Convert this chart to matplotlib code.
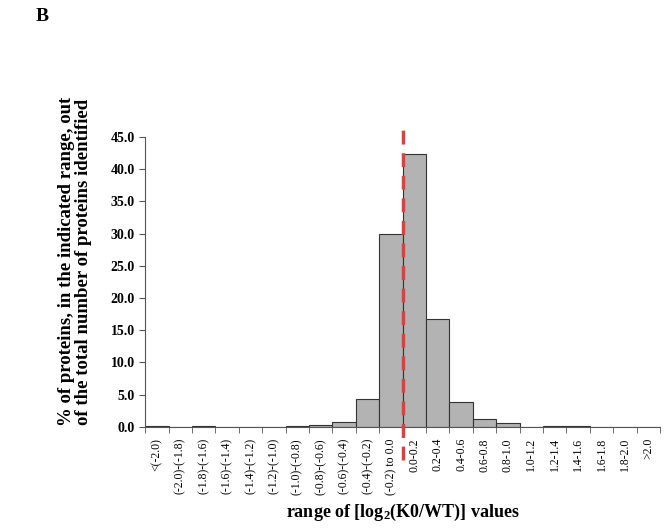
import matplotlib
matplotlib.use("Agg")
import matplotlib.pyplot as plt
import numpy as np

plt.rcParams['font.family'] = ['Liberation Serif', 'DejaVu Serif']
plt.rcParams['mathtext.fontset'] = 'custom'
plt.rcParams['mathtext.rm'] = 'Liberation Serif:bold'
plt.rcParams['mathtext.bf'] = 'Liberation Serif:bold'
plt.rcParams['mathtext.default'] = 'rm'

categories = ['<(-2.0)', '(-2.0)-(-1.8)', '(-1.8)-(-1.6)', '(-1.6)-(-1.4)', '(-1.4)-(-1.2)',
              '(-1.2)-(-1.0)', '(-1.0)-(-0.8)', '(-0.8)-(-0.6)', '(-0.6)-(-0.4)', '(-0.4)-(-0.2)',
              '(-0.2) to 0.0', '0.0-0.2', '0.2-0.4', '0.4-0.6', '0.6-0.8', '0.8-1.0',
              '1.0-1.2', '1.2-1.4', '1.4-1.6', '1.6-1.8', '1.8-2.0', '>2.0']
percent = [0.2, 0.0, 0.2, 0.0, 0.0, 0.0, 0.2, 0.35, 0.8, 4.4,
           29.9, 42.3, 16.8, 3.8, 1.3, 0.6, 0.0, 0.2, 0.2, 0.0, 0.0, 0.0]

fig = plt.figure(figsize=(6.66, 5.29), dpi=100)
ax = fig.add_axes([0.218, 0.193, 0.773, 0.548])

x = np.arange(len(categories))
ax.bar(x, percent, width=1.0, color='#b3b3b3', edgecolor='#333333', linewidth=0.8)

ax.set_xlim(-0.5, len(categories) - 0.5)
ax.set_ylim(0, 45)
ax.set_yticks(np.arange(0, 46, 5))
ax.set_yticklabels(['%.1f' % v for v in np.arange(0, 46, 5)], fontsize=10, fontweight='bold')
ax.set_xticks(x)
ax.set_xticklabels(categories, rotation=90, fontsize=8.5)
ax.set_xticks(np.arange(-0.5, len(categories)), minor=True)
ax.tick_params(axis='x', which='major', length=0, pad=8)
ax.tick_params(axis='x', which='minor', length=4, color='#555555')
ax.tick_params(axis='y', length=4, color='#555555')

for s in ['top', 'right']:
    ax.spines[s].set_visible(False)
ax.spines['left'].set_color('#555555')
ax.spines['bottom'].set_color('#555555')

# zero line between negative and positive bins
ax.axvline(10.5, ymin=-0.115, ymax=1.05, color='#d04545', linestyle=(0, (4, 2.5)),
           linewidth=2.5, clip_on=False, zorder=5)

ax.set_xlabel('range of [log$_2$(K0/WT)] values', fontsize=13, fontweight='bold',
              labelpad=5)
ax.set_ylabel('% of proteins, in the indicated range, out\nof the total number of proteins identified',
              fontsize=13.5, fontweight='bold', linespacing=0.95)
ax.yaxis.set_label_coords(-0.104, 0.57)

fig.text(0.063, 0.968, 'B', fontsize=14, fontweight='bold', va='center', ha='center')

fig.savefig('out.png', dpi=100)
